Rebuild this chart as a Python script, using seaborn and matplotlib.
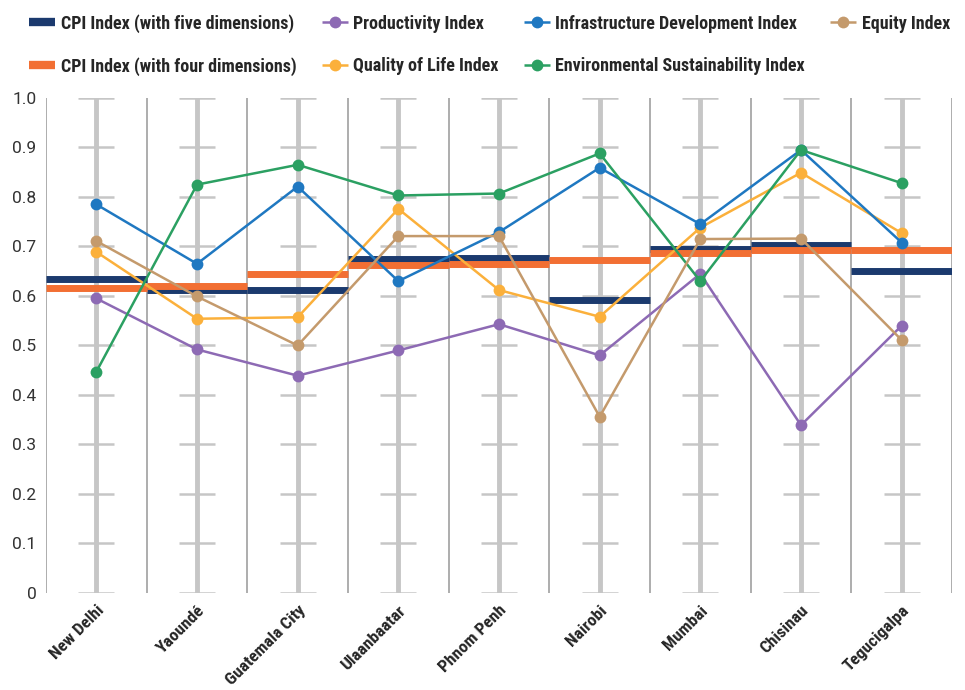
import numpy as np
import pandas as pd
import matplotlib
matplotlib.use("Agg")
import matplotlib.pyplot as plt
from matplotlib.lines import Line2D
import seaborn as sns

cities = ["New Delhi", "Yaoundé", "Guatemala City", "Ulaanbaatar", "Phnom Penh",
          "Nairobi", "Mumbai", "Chisinau", "Tegucigalpa"]

cpi_five = [0.634, 0.613, 0.613, 0.675, 0.676, 0.592, 0.695, 0.702, 0.650]
cpi_four = [0.617, 0.621, 0.644, 0.663, 0.664, 0.672, 0.687, 0.693, 0.693]

productivity = [0.595, 0.492, 0.439, 0.490, 0.543, 0.480, 0.645, 0.339, 0.540]
quality_of_life = [0.689, 0.554, 0.557, 0.776, 0.612, 0.558, 0.738, 0.849, 0.727]
infrastructure = [0.785, 0.665, 0.821, 0.630, 0.729, 0.859, 0.745, 0.895, 0.708]
environment = [0.447, 0.825, 0.865, 0.803, 0.807, 0.888, 0.630, 0.895, 0.828]
equity = [0.711, 0.599, 0.500, 0.721, 0.721, 0.356, 0.715, 0.716, 0.511]

yticks = [0, 0.1, 0.2, 0.3, 0.4, 0.5, 0.6, 0.7, 0.8, 0.9, 1.0]
ytick_labels = ["0", "0.1", "0.2", "0.3", "0.4", "0.5", "0.6", "0.7", "0.8", "0.9", "1.0"]

series = {
    "Productivity Index": (productivity, "#8d6ab4"),
    "Quality of Life Index": (quality_of_life, "#fbb03b"),
    "Infrastructure Development Index": (infrastructure, "#1f78c1"),
    "Environmental Sustainability Index": (environment, "#2ba062"),
    "Equity Index": (equity, "#c49a6c"),
}
navy = "#1b3a6e"
orange = "#f26f33"

cond = ["Roboto Condensed", "PT Sans Narrow", "Liberation Sans", "DejaVu Sans"]

sns.set_style("white")
plt.rcParams["font.family"] = ["Roboto", "Liberation Sans", "DejaVu Sans"]

fig = plt.figure(figsize=(9.65, 6.9), dpi=100)
ax = fig.add_axes([0.0477, 0.1406, 0.9388, 0.7174])

x = np.arange(len(cities))

# background grid: thick gray stem + short ticks at each city, thin dividers between
ax.vlines(x, 0, 1, color="#c6c6c6", lw=3.5, zorder=1)
for xi in x:
    ax.hlines(yticks, xi - 0.18, xi + 0.18, color="#c6c6c6", lw=1.8, zorder=1)
ax.vlines(np.arange(len(cities) + 1) - 0.5, 0, 1, color="#a0a0a0", lw=1.2, zorder=1)

# CPI step bars
ax.hlines(cpi_five, x - 0.5, x + 0.5, color=navy, lw=5, zorder=2)
ax.hlines(cpi_four, x - 0.5, x + 0.5, color=orange, lw=5, zorder=3)

rows = []
for name, (vals, col) in series.items():
    for i, v in enumerate(vals):
        rows.append({"x": i, "value": v, "series": name})
df = pd.DataFrame(rows)
palette = {k: c for k, (v, c) in series.items()}
sns.lineplot(data=df, x="x", y="value", hue="series", palette=palette,
             marker="o", markersize=8.5, markeredgewidth=0, lw=1.8,
             sort=False, legend=False, ax=ax, zorder=4)
for ln in ax.lines:
    ln.set_clip_on(False)

ax.set_xlim(-0.5, len(cities) - 0.5)
ax.set_ylim(0, 1)
ax.set_yticks(yticks)
ax.set_yticklabels(ytick_labels, fontsize=12.5, color="#333333")
ax.set_xticks(x)
ax.set_xticklabels(cities, rotation=45, ha="right", rotation_mode="anchor",
                   fontsize=12.5, fontweight="bold", family=cond)
ax.tick_params(axis="both", length=0)
ax.tick_params(axis="y", pad=7)
ax.tick_params(axis="x", pad=7)
ax.set_xlabel("")
ax.set_ylabel("")
for s in ax.spines.values():
    s.set_visible(False)

handles = [
    Line2D([], [], color=navy, lw=6, solid_capstyle="butt"),
    Line2D([], [], color=orange, lw=6, solid_capstyle="butt"),
]
labels = ["CPI Index (with five dimensions)", "CPI Index (with four dimensions)"]
for name in ["Productivity Index", "Quality of Life Index",
             "Infrastructure Development Index", "Environmental Sustainability Index",
             "Equity Index"]:
    handles.append(Line2D([], [], color=palette[name], lw=1.8, marker="o", markersize=8.5,
                          markeredgewidth=0, solid_capstyle="butt"))
    labels.append(name)

fig.legend(handles, labels, ncol=4, loc="upper left", bbox_to_anchor=(0.0207, 0.993),
           frameon=False, borderpad=0, handlelength=1.45, columnspacing=1.4,
           labelspacing=1.35, handletextpad=0.3,
           prop={"family": cond, "weight": "bold", "size": 13})

fig.savefig("out.png", dpi=100)
